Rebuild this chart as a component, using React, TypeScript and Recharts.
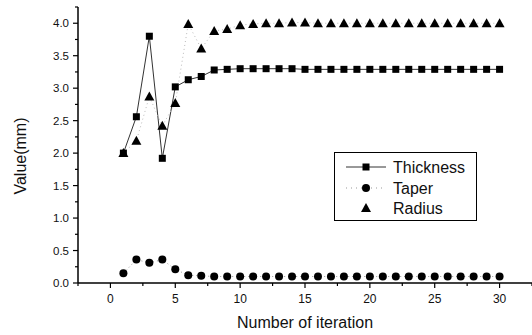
import React from "react";
import { LineChart, Line, XAxis, YAxis } from "recharts";

const iterations = [1, 2, 3, 4, 5, 6, 7, 8, 9, 10, 11, 12, 13, 14, 15, 16, 17, 18, 19, 20, 21, 22, 23, 24, 25, 26, 27, 28, 29, 30];
const thickness = [2.0, 2.56, 3.8, 1.92, 3.02, 3.13, 3.18, 3.28, 3.29, 3.3, 3.3, 3.3, 3.3, 3.3, 3.29, 3.29, 3.29, 3.29, 3.29, 3.29, 3.29, 3.29, 3.29, 3.29, 3.29, 3.29, 3.29, 3.29, 3.29, 3.29];
const taper = [0.15, 0.36, 0.31, 0.36, 0.21, 0.12, 0.11, 0.1, 0.1, 0.1, 0.1, 0.1, 0.1, 0.1, 0.1, 0.1, 0.1, 0.1, 0.1, 0.1, 0.1, 0.1, 0.1, 0.1, 0.1, 0.1, 0.1, 0.1, 0.1, 0.1];
const radius = [2.0, 2.19, 2.87, 2.42, 2.77, 3.99, 3.61, 3.88, 3.91, 3.97, 3.99, 4.0, 4.0, 4.01, 4.01, 4.0, 4.0, 4.0, 4.0, 4.0, 4.0, 4.0, 4.0, 4.0, 4.0, 4.0, 4.0, 4.0, 4.0, 4.0];

const xTicks = [-2.5, 0, 2.5, 5, 7.5, 10, 12.5, 15, 17.5, 20, 22.5, 25, 27.5, 30, 32.5];
const yTicks = [0, 0.25, 0.5, 0.75, 1, 1.25, 1.5, 1.75, 2, 2.25, 2.5, 2.75, 3, 3.25, 3.5, 3.75, 4, 4.25];

const data = iterations.map((it, i) => ({
  it,
  thickness: thickness[i],
  taper: taper[i],
  radius: radius[i],
}));

const FONT = "'Liberation Sans', Arial, sans-serif";

const Square = ({ cx, cy }: any) => <rect x={cx - 3.5} y={cy - 3.5} width={7} height={7} fill="#000" />;
const Circle = ({ cx, cy }: any) => <circle cx={cx} cy={cy} r={4} fill="#000" />;
const Triangle = ({ cx, cy }: any) => (
  <path d={`M${cx},${cy - 5} L${cx + 5},${cy + 4} L${cx - 5},${cy + 4} Z`} fill="#000" />
);

const XTick = ({ x, y, payload }: any) => {
  const v = payload.value;
  const major = v % 5 === 0;
  return (
    <g>
      <line x1={x} x2={x} y1={y} y2={y + (major ? 5 : 3)} stroke="#000" strokeWidth={1.2} />
      {major && (
        <text x={x} y={y + 20} textAnchor="middle" fontSize={12} fill="#111" fontFamily={FONT}>
          {v}
        </text>
      )}
    </g>
  );
};

const YTick = ({ x, y, payload }: any) => {
  const v = payload.value;
  const major = Math.abs((v * 2) % 1) < 1e-6;
  return (
    <g>
      <line x1={x - (major ? 5 : 3)} x2={x} y1={y} y2={y} stroke="#000" strokeWidth={1.2} />
      {major && (
        <text x={x - 9} y={y + 4} textAnchor="end" fontSize={11.5} fill="#111" fontFamily={FONT}>
          {v.toFixed(1)}
        </text>
      )}
    </g>
  );
};

const LegendBox = () => (
  <svg width={144} height={70} style={{ display: "block" }}>
    <rect x={0.5} y={0.5} width={142} height={68} fill="#fff" stroke="#000" strokeWidth={1} />
    <line x1={12} x2={52} y1={15} y2={15} stroke="#333" strokeWidth={1} />
    <Square cx={32} cy={15} />
    <line x1={12} x2={52} y1={36} y2={36} stroke="#999" strokeWidth={1} strokeDasharray="1 4" />
    <Circle cx={32} cy={36} />
    <Triangle cx={32} cy={56} />
    <text x={59} y={21} fontSize={16} fontFamily={FONT} fill="#111">Thickness</text>
    <text x={59} y={42} fontSize={16} fontFamily={FONT} fill="#111">Taper</text>
    <text x={59} y={62} fontSize={16} fontFamily={FONT} fill="#111">Radius</text>
  </svg>
);

export default function App() {
  return (
    <div style={{ position: "absolute", left: 0, top: 0, width: 532, height: 335, background: "#fff", fontFamily: FONT }}>
      <LineChart width={532} height={335} data={data} margin={{ top: 7, right: 0, left: 0, bottom: 0 }}>
        <XAxis
          dataKey="it"
          type="number"
          domain={[-2.5, 32.5]}
          ticks={xTicks}
          interval={0}
          allowDataOverflow
          height={52}
          tickSize={0}
          tickMargin={0}
          tickLine={false}
          tick={<XTick />}
          axisLine={{ stroke: "#000", strokeWidth: 1.5 }}
          label={{
            content: () => (
              <text x={305} y={328} textAnchor="middle" fontSize={16} fill="#111" fontFamily={FONT}>
                Number of iteration
              </text>
            ),
          }}
        />
        <YAxis
          type="number"
          domain={[0, 4.25]}
          ticks={yTicks}
          interval={0}
          allowDataOverflow
          width={78}
          tickSize={0}
          tickMargin={0}
          tickLine={false}
          tick={<YTick />}
          axisLine={{ stroke: "#000", strokeWidth: 1.5 }}
          label={{
            content: () => (
              <text x={26} y={156} transform="rotate(-90 26 156)" textAnchor="middle" fontSize={16} fill="#111" fontFamily={FONT}>
                Value(mm)
              </text>
            ),
          }}
        />
        <Line
          dataKey="thickness"
          name="Thickness"
          stroke="#333"
          strokeWidth={1}
          isAnimationActive={false}
          dot={(p: any) => <Square key={`s${p.index}`} cx={p.cx} cy={p.cy} />}
        />
        <Line
          dataKey="taper"
          name="Taper"
          stroke="#999"
          strokeWidth={1}
          strokeDasharray="1 3"
          isAnimationActive={false}
          dot={(p: any) => <Circle key={`c${p.index}`} cx={p.cx} cy={p.cy} />}
        />
        <Line
          dataKey="radius"
          name="Radius"
          stroke="#bbb"
          strokeWidth={1}
          strokeDasharray="1 3"
          isAnimationActive={false}
          dot={(p: any) => <Triangle key={`t${p.index}`} cx={p.cx} cy={p.cy} />}
        />
      </LineChart>
      <div style={{ position: "absolute", left: 334, top: 152 }}>
        <LegendBox />
      </div>
    </div>
  );
}
